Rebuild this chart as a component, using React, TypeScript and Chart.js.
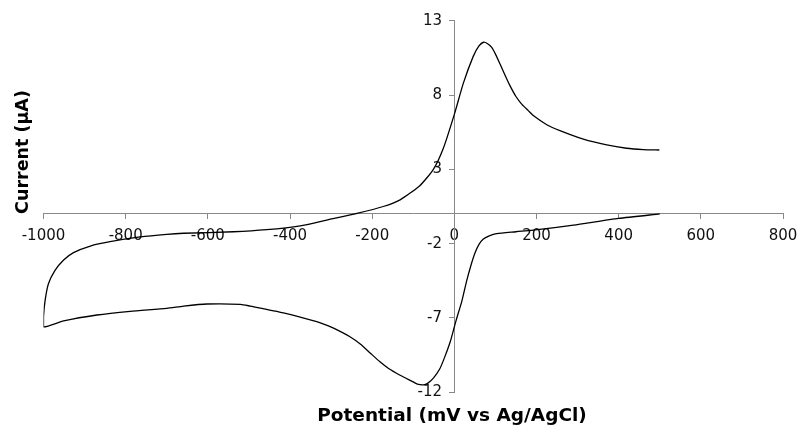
import React, { useEffect, useRef } from "react";
import { Chart, registerables } from "chart.js";

Chart.register(...registerables);

// Cathodic scan: 500 mV -> -1000 mV
const cathodicPotential = [500, 400, 290, 208, 150, 103, 85, 70, 60, 50, 40, 30, 18, 6, 0, -10, -23, -35, -51, -65, -75, -90, -100, -132, -160, -181, -205, -229, -255, -278, -305, -335, -416, -497, -521, -602, -659, -700, -789, -870, -951, -1000];
const cathodicCurrent = [0.0, -0.3, -0.75, -1.04, -1.2, -1.33, -1.48, -1.7, -2.05, -2.65, -3.5, -4.5, -5.9, -7.0, -7.6, -8.6, -9.6, -10.4, -11.05, -11.4, -11.5, -11.45, -11.3, -10.85, -10.4, -9.95, -9.35, -8.75, -8.25, -7.9, -7.55, -7.25, -6.65, -6.2, -6.08, -6.06, -6.2, -6.35, -6.55, -6.8, -7.2, -7.6];

// Anodic scan: -1000 mV -> 500 mV
const anodicPotential = [-1000, -996, -988, -972, -951, -927, -886, -838, -765, -700, -659, -538, -457, -375, -311, -237, -173, -132, -84, -51, -27, 0, 22, 46, 60, 71, 81, 91, 101, 111, 124, 136, 150, 165, 180, 193, 225, 257, 314, 371, 419, 460, 499];
const anodicCurrent = [-6.9, -5.8, -4.7, -3.8, -3.1, -2.6, -2.16, -1.87, -1.55, -1.37, -1.3, -1.2, -1.06, -0.8, -0.41, 0.04, 0.5, 0.95, 1.9, 3.0, 4.4, 6.7, 8.8, 10.6, 11.3, 11.55, 11.45, 11.2, 10.7, 10.1, 9.3, 8.6, 7.9, 7.35, 6.95, 6.6, 6.0, 5.6, 5.03, 4.64, 4.42, 4.33, 4.3];

const xTitle = "Potential (mV vs Ag/AgCl)";
const yTitle = "Current (\u03bcA)";

const FONT = "'DejaVu Sans', Verdana, sans-serif";

export default function App() {
  const ref = useRef<HTMLCanvasElement | null>(null);

  useEffect(() => {
    if (!ref.current) return;
    const pts = [
      ...cathodicPotential.map((x, i) => ({ x, y: cathodicCurrent[i] })),
      ...anodicPotential.map((x, i) => ({ x, y: anodicCurrent[i] })),
    ];

    const titlePlugin = {
      id: "axisTitles",
      afterDraw(chart: any) {
        const ctx = chart.ctx;
        const area = chart.chartArea;
        ctx.save();
        ctx.fillStyle = "#000";
        ctx.textAlign = "center";
        ctx.textBaseline = "middle";
        ctx.font = `bold 18.5px ${FONT}`;
        ctx.fillText(xTitle, 452, area.bottom + 24);
        ctx.font = `bold 17.5px ${FONT}`;
        ctx.translate(23, 152);
        ctx.rotate(-Math.PI / 2);
        ctx.fillText(yTitle, 0, 0);
        ctx.restore();
      },
    };

    const chart = new Chart(ref.current, {
      type: "scatter",
      data: {
        datasets: [
          {
            data: pts,
            showLine: true,
            borderColor: "#000",
            borderWidth: 1.3,
            pointRadius: 0,
            tension: 0.2,
            fill: false,
          },
        ],
      },
      options: {
        responsive: false,
        animation: false,
        layout: { padding: { left: 43.5, right: 17, top: 20.7, bottom: 32.7 } },
        plugins: { legend: { display: false }, tooltip: { enabled: false } },
        scales: {
          x: {
            type: "linear",
            position: { y: 0 } as any,
            min: -1000,
            max: 800,
            afterFit: (scale: any) => {
              scale.paddingLeft = 0;
              scale.paddingRight = 0;
            },
            ticks: {
              stepSize: 200,
              color: "#111",
              font: { family: FONT, size: 15 },
              padding: 8,
              maxRotation: 0,
              callback: (v: any) => String(v),
            },
            grid: {
              drawOnChartArea: false,
              drawTicks: true,
              tickLength: 5,
              color: "#888",
            },
            border: { display: true, color: "#888", width: 1 },
          },
          y: {
            type: "linear",
            position: { x: 0 } as any,
            min: -12,
            max: 13,
            afterFit: (scale: any) => {
              scale.paddingTop = 0;
              scale.paddingBottom = 0;
            },
            ticks: {
              stepSize: 5,
              color: "#111",
              font: { family: FONT, size: 15 },
              padding: 9,
              crossAlign: "near",
              callback: (v: any) => String(v) + "\u2002 ",
            },
            grid: {
              drawOnChartArea: false,
              drawTicks: true,
              tickLength: 5,
              color: "#888",
            },
            border: { display: true, color: "#888", width: 1 },
          },
        },
      },
      plugins: [titlePlugin],
    });
    return () => chart.destroy();
  }, []);

  return (
    <div style={{ position: "absolute", left: 0, top: 0, width: 800, height: 425, background: "#fff" }}>
      <canvas ref={ref} width={800} height={425} />
    </div>
  );
}
